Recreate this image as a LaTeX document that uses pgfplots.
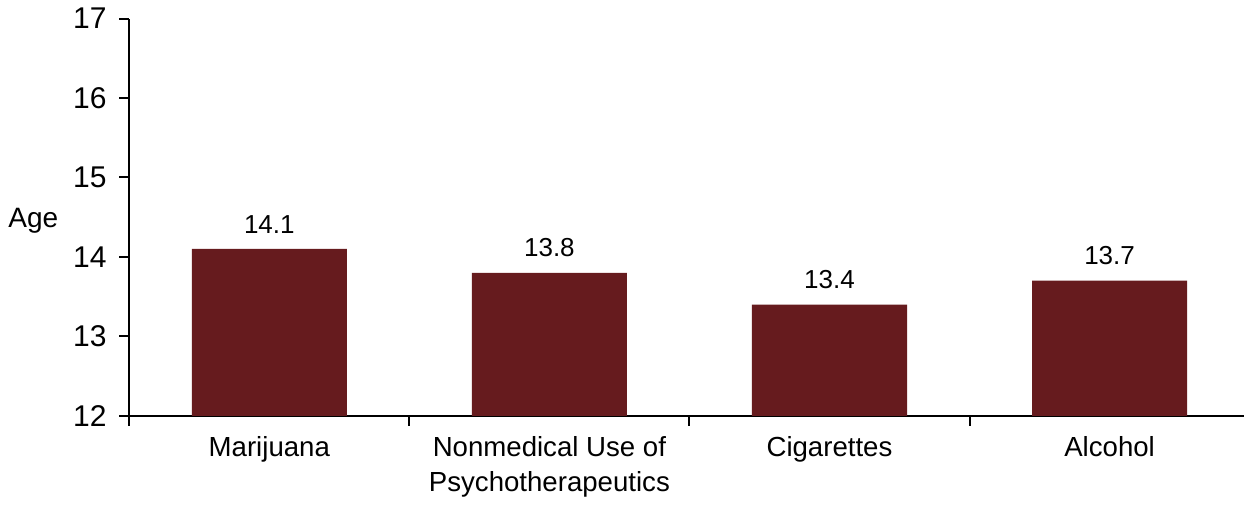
\documentclass[border=0pt]{standalone}
\usepackage{pgfplots}
\pgfplotsset{compat=1.18}
\usepackage{fontspec}
\setmainfont{Liberation Sans}
\definecolor{barred}{HTML}{661B1E}
\begin{document}
\fontsize{12.5}{15}\selectfont
\begin{tikzpicture}
\begin{axis}[
  scale only axis,
  width=557.2pt, height=198.5pt,
  xmin=-0.5, xmax=3.48,
  ymin=12, ymax=17,
  ytick={12,13,14,15,16,17},
  xtick={-0.5,0.5,1.5,2.5},
  xticklabels={Marijuana,{Nonmedical Use of\\Psychotherapeutics},Cigarettes,Alcohol},
  xticklabel style={xshift=70pt, align=center, font=\fontsize{13.8}{17.5}\selectfont, yshift=-1pt},
  yticklabel style={xshift=-2pt, font=\fontsize{15}{17}\selectfont},
  /pgf/number format/assume math mode=true,
  axis lines*=left,
  axis line style={line width=1pt, -},
  tick align=outside,
  major tick length=5pt,
  tick style={line width=1pt, black},
  ybar,
  bar width=77.5pt,
  nodes near coords,
  nodes near coords style={font=\fontsize{13}{15}\selectfont, /pgf/number format/fixed, /pgf/number format/precision=1, /pgf/number format/fixed zerofill, yshift=3.5pt},
  clip=false,
]
\addplot[fill=barred, draw=none] coordinates {(0,14.1) (1,13.8) (2,13.4) (3,13.7)};
\node at (rel axis cs:0,0.5) [xshift=-48pt, yshift=-2pt, font=\fontsize{14}{16}\selectfont] {Age};
\end{axis}
\end{tikzpicture}
\end{document}
